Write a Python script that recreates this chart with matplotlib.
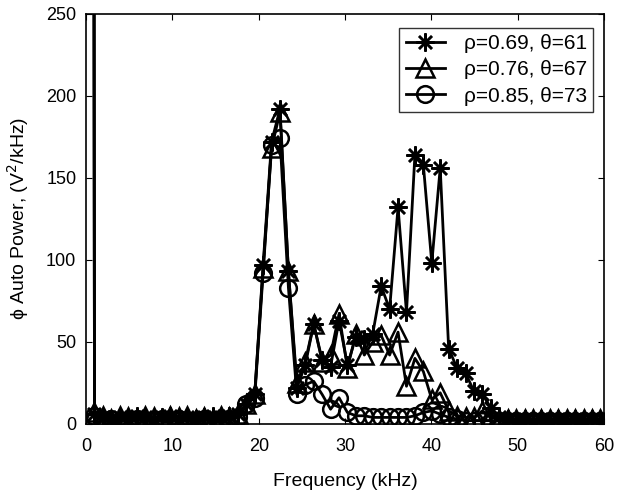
import numpy as np
import matplotlib
matplotlib.use("Agg")
import matplotlib.pyplot as plt

plt.rcParams['font.family'] = ['Liberation Sans', 'DejaVu Sans']

# FFT bin frequencies (kHz)
freq = np.arange(63) * (1000.0 / 1024.0)

series_a = [5000, 6,
            4, 3, 4, 3, 5, 4, 3, 4, 5, 3, 4, 3, 4, 5, 4, 5,
            6, 12, 18, 97, 172, 192, 93, 22, 36, 61, 39, 35, 63, 36, 53, 52, 55, 84,
            70, 132, 68, 164, 158, 98, 156, 46, 34, 31, 20, 18, 10, 4,
            3, 2, 3, 2, 3, 2, 3, 2, 3, 2, 3, 2, 3]
series_b = [5000, 7,
            5, 3, 5, 4, 3, 5, 4, 3, 5, 4, 5, 3, 4, 3, 5, 4,
            6, 12, 18, 95, 168, 190, 93, 25, 38, 61, 38, 42, 67, 34, 55, 42, 50, 54,
            42, 56, 23, 40, 32, 15, 19, 8, 5, 4, 4, 8, 5, 3,
            3, 3, 3, 3, 3, 3, 3, 3, 3, 3, 3, 3, 3]
series_c = [5000, 5,
            2, 3, 2, 2, 3, 2, 2, 3, 2, 3, 2, 2, 3, 2, 2, 3,
            4, 12, 16, 92, 170, 174, 83, 18, 24, 26, 18, 9, 16, 7, 5, 5, 4, 4,
            4, 4, 4, 5, 7, 8, 6, 4, 3, 2, 2, 2, 2, 2,
            2, 2, 2, 2, 2, 2, 2, 2, 2, 2, 2, 2, 2]

labels = ['ρ=0.69, θ=61', 'ρ=0.76, θ=67', 'ρ=0.85, θ=73']
markers = [(8, 2, 0), '^', 'o']
sizes = [13, 13, 12]
xticks = [0, 10, 20, 30, 40, 50, 60]
yticks = [0, 50, 100, 150, 200, 250]

fig = plt.figure(figsize=(6.19, 4.93), dpi=100)
ax = fig.add_axes([0.139, 0.14, 0.837, 0.832])

for vals, lab, mk, ms in zip([series_a, series_b, series_c], labels, markers, sizes):
    ax.plot(freq, vals, color='black', linewidth=2, marker=mk, markersize=ms,
            markerfacecolor='none', markeredgecolor='black', markeredgewidth=1.8,
            label=lab)

ax.set_xlim(0, 60)
ax.set_ylim(0, 250)
ax.set_xticks(xticks)
ax.set_yticks(yticks)
ax.tick_params(direction='in', top=True, right=True, labelsize=13, length=4)
ax.tick_params(axis='x', pad=10)
ax.tick_params(axis='y', pad=7)
for s in ax.spines.values():
    s.set_linewidth(1.2)
ax.set_xlabel('Frequency (kHz)', fontsize=14, labelpad=13)
ax.set_ylabel('ϕ Auto Power, (V$^2$/kHz)', fontsize=14, labelpad=11)
leg = ax.legend(loc='upper right', bbox_to_anchor=(0.979, 0.966), borderaxespad=0,
                fontsize=15, frameon=True, fancybox=False,
                edgecolor='black', handlelength=1.9, borderpad=0.3,
                labelspacing=0.35, handletextpad=0.9)
leg.get_frame().set_linewidth(1.0)

fig.savefig('out.png', dpi=100)
